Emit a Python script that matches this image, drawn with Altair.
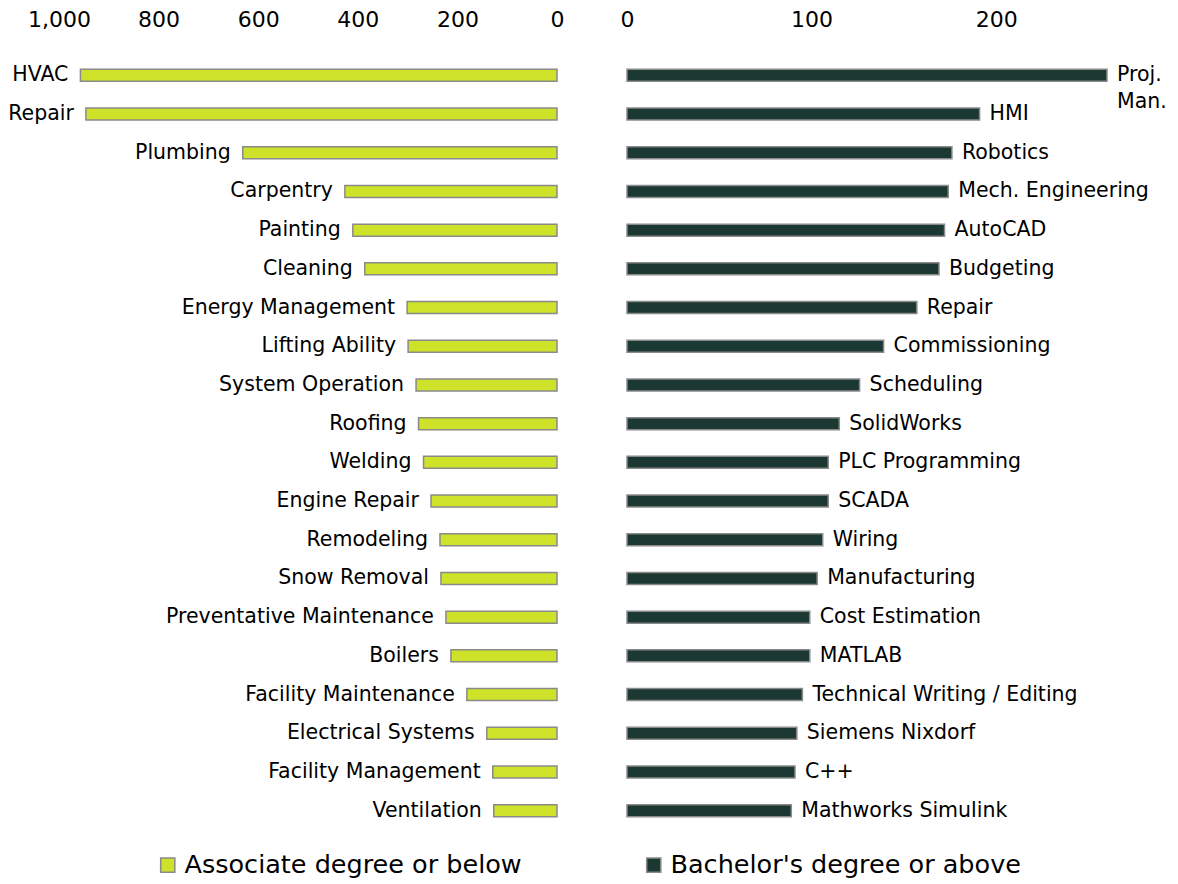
import altair as alt
import pandas as pd

assoc_skills = [
    "HVAC", "Repair", "Plumbing", "Carpentry", "Painting", "Cleaning",
    "Energy Management", "Lifting Ability", "System Operation", "Roofing",
    "Welding", "Engine Repair", "Remodeling", "Snow Removal",
    "Preventative Maintenance", "Boilers", "Facility Maintenance",
    "Electrical Systems", "Facility Management", "Ventilation",
]
assoc_counts = [957, 946, 631, 426, 410, 386, 301, 299, 283, 278,
                268, 253, 235, 233, 223, 213, 181, 141, 129, 127]

bach_skills = [
    "Proj.\nMan.", "HMI", "Robotics", "Mech. Engineering", "AutoCAD", "Budgeting",
    "Repair", "Commissioning", "Scheduling", "SolidWorks", "PLC Programming",
    "SCADA", "Wiring", "Manufacturing", "Cost Estimation", "MATLAB",
    "Technical Writing / Editing", "Siemens Nixdorf", "C++", "Mathworks Simulink",
]
bach_counts = [260, 191, 176, 174, 172, 169, 157, 139, 126, 115, 109,
               109, 106, 103, 99, 99, 95, 92, 91, 89]

levels = ["Associate degree or below", "Bachelor's degree or above"]
left_ticks = [0, 200, 400, 600, 800, 1000]
right_ticks = [0, 100, 200]

LIME = "#cde229"
DARK = "#1b3832"
STROKE = "#8a8a8a"
FONT = "DejaVu Sans"

left_df = pd.DataFrame({"skill": assoc_skills, "count": assoc_counts,
                        "rank": list(range(len(assoc_skills))), "level": levels[0]})
right_df = pd.DataFrame({"skill": bach_skills, "count": bach_counts,
                         "rank": list(range(len(bach_skills))), "level": levels[1]})

H = 774
y_enc = alt.Y("rank:O", axis=None,
              scale=alt.Scale(paddingInner=0.69, paddingOuter=0.345))
color_enc = alt.Color(
    "level:N",
    scale=alt.Scale(domain=levels, range=[LIME, DARK]),
    legend=alt.Legend(
        title=None, orient="none", direction="horizontal",
        legendX=96, legendY=796,
        symbolType="square", symbolSize=200, symbolStrokeColor=STROKE,
        symbolStrokeWidth=1.5, labelFontSize=25.5, labelFont=FONT,
        labelColor="black", labelOffset=4, columnPadding=119, padding=0,
        labelLimit=500,
    ),
)


def axis(vals, fmt):
    return alt.Axis(orient="top", values=vals, format=fmt, title=None,
                    domain=False, ticks=False, grid=False, labelFlush=False,
                    labelFontSize=22, labelFont=FONT, labelColor="black",
                    labelPadding=25)


lx = alt.X("count:Q", scale=alt.Scale(domain=[0, 1000], reverse=True, nice=False),
           axis=axis(left_ticks, ",.0f"))
left_base = alt.Chart(left_df).encode(x=lx, y=y_enc)
left = alt.layer(
    left_base.mark_bar(stroke=STROKE, strokeWidth=1.5).encode(color=color_enc),
    left_base.mark_text(align="right", baseline="middle", dx=-12,
                        fontSize=20.5, font=FONT, color="black").encode(text="skill:N"),
).properties(width=498, height=H)

rx = alt.X("count:Q", scale=alt.Scale(domain=[0, 260], nice=False),
           axis=axis(right_ticks, "d"))
right_base = alt.Chart(right_df).encode(x=rx, y=y_enc)
right = alt.layer(
    right_base.mark_bar(stroke=STROKE, strokeWidth=1.5).encode(color=color_enc),
    right_base.mark_text(align="left", baseline="middle", dx=10, lineBreak="\n",
                         lineHeight=27, fontSize=20.5, font=FONT,
                         color="black").encode(text="skill:N"),
).properties(width=480, height=H)

chart = alt.hconcat(left, right, spacing=70, bounds="flush").resolve_scale(
    x="independent"
).properties(
    padding={"left": 0, "top": 0, "right": 0, "bottom": 0}
).configure_view(stroke=None)

chart.save("out.html", embed_options={"renderer": "svg", "actions": False})
